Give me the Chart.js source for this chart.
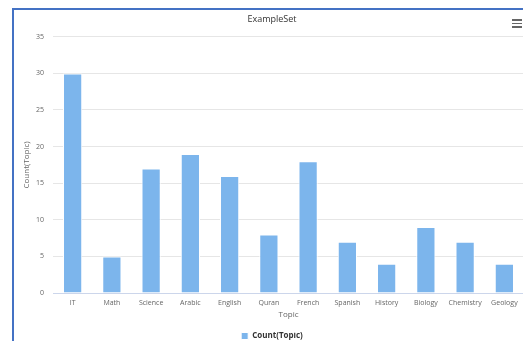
<!DOCTYPE html>
<html lang="en">
<head>
    <meta charset="UTF-8">
    <title>ExampleSet</title>
    <script src="https://cdn.jsdelivr.net/npm/chart.js@4"></script>
    <style>
        html, body { margin: 0; padding: 0; background: #fff; overflow: hidden; }
        #wrap { position: absolute; left: 0; top: 0; width: 530px; height: 341px; }
        #frame { position: absolute; left: 12px; top: 8px; width: 600px; height: 400px;
                 border-left: 2px solid #4472c4; border-top: 2px solid #4472c4; pointer-events: none; }
        #menu { position: absolute; left: 512px; top: 19px; width: 10px; }
        #menu span { display: block; height: 1.5px; background: #666; margin-bottom: 2px; }
    </style>
</head>
<body>
<div id="wrap"><canvas id="myChart" width="530" height="341"></canvas></div>
<div id="frame"></div>
<div id="menu"><span></span><span></span><span></span></div>

<script>
    // datos
    const topics = ["IT", "Math", "Science", "Arabic", "English", "Quran", "French",
                    "Spanish", "History", "Biology", "Chemistry", "Geology"];
    const counts = [30, 5, 17, 19, 16, 8, 18, 7, 4, 9, 7, 4];
    const yTicks = [0, 5, 10, 15, 20, 25, 30, 35];

    // titulo y leyenda centrados en el marco, no en el canvas
    const moverCajas = {
        id: 'moverCajas',
        afterLayout(chart) {
            chart.legend.top += 9;
            chart.legend.bottom += 9;
            chart.legend.left += 10;
            chart.legend.right += 10;
            chart.titleBlock.left += 10;
            chart.titleBlock.right += 10;
        }
    };

    const ctx = document.getElementById('myChart').getContext('2d');
    const myChart = new Chart(ctx, {
        type: 'bar',
        data: {
            labels: topics,
            datasets: [{
                label: 'Count(Topic)',
                data: counts,
                backgroundColor: '#7cb5ec',
                borderColor: '#ffffff',
                borderWidth: 1,
                categoryPercentage: 1,
                barPercentage: 0.49
            }]
        },
        options: {
            responsive: false,
            animation: false,
            layout: { padding: { left: 0, right: 6, top: 0, bottom: 0 } },
            font: { family: "'Open Sans', sans-serif" },
            plugins: {
                title: {
                    display: true,
                    text: 'ExampleSet',
                    color: '#333333',
                    font: { family: "'Open Sans', sans-serif", size: 9, weight: 'normal' },
                    padding: { top: 14, bottom: 12 }
                },
                legend: {
                    position: 'bottom',
                    labels: {
                        boxWidth: 7,
                        boxHeight: 7,
                        padding: 0,
                        color: '#333333',
                        font: { family: "'Open Sans', sans-serif", size: 8, weight: 'bold' }
                    }
                },
                tooltip: { enabled: false }
            },
            scales: {
                x: {
                    grid: { display: false, drawTicks: false },
                    border: { display: true, color: '#ccd6eb' },
                    ticks: {
                        color: '#666666',
                        padding: 6,
                        maxRotation: 0,
                        autoSkip: false,
                        font: { family: "'Open Sans', sans-serif", size: 7 }
                    },
                    title: {
                        display: true,
                        text: 'Topic',
                        color: '#666666',
                        font: { family: "'Open Sans', sans-serif", size: 8 },
                        padding: { top: 0, bottom: 3 }
                    },
                    afterFit: (scale) => { scale.height = 30; }
                },
                y: {
                    min: 0,
                    max: yTicks[yTicks.length - 1],
                    afterBuildTicks: (scale) => { scale.ticks = yTicks.map(v => ({ value: v })); },
                    grid: { color: '#e6e6e6', drawTicks: false },
                    border: { display: false },
                    ticks: {
                        color: '#666666',
                        padding: 9,
                        font: { family: "'Open Sans', sans-serif", size: 7 }
                    },
                    title: {
                        display: true,
                        text: 'Count(Topic)',
                        color: '#666666',
                        font: { family: "'Open Sans', sans-serif", size: 8 },
                        padding: { top: 22, bottom: 0 }
                    },
                    afterFit: (scale) => { scale.width = 53; }
                }
            }
        },
        plugins: [moverCajas]
    });
</script>
</body>
</html>
